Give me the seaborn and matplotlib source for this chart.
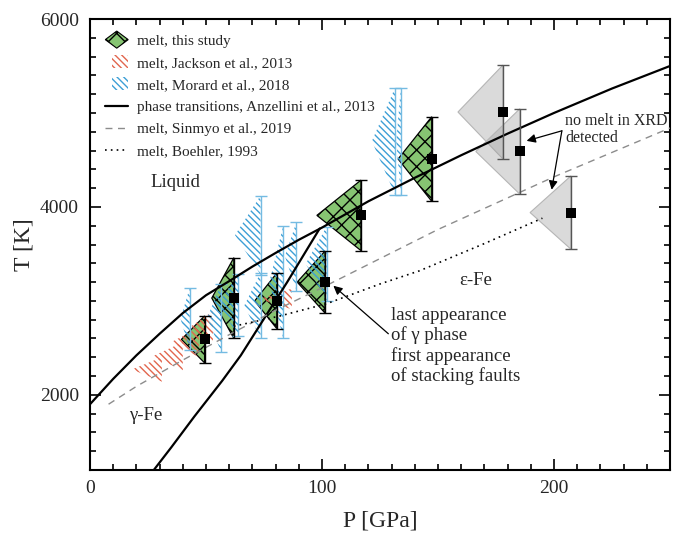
import numpy as np
import pandas as pd
import matplotlib
matplotlib.use("Agg")
import matplotlib.pyplot as plt
import seaborn as sns
from matplotlib.patches import Polygon, Patch
from matplotlib.lines import Line2D
from matplotlib.legend_handler import HandlerPatch
from matplotlib.ticker import MultipleLocator

# ---------------- data ----------------
# Anzellini et al. 2013 melting curve
P_melt = [0, 10, 20, 30, 40, 50, 60, 70, 80, 90, 100, 120, 140, 160, 180, 200, 225, 250]
T_melt = [1900, 2170, 2420, 2650, 2870, 3060, 3210, 3365, 3510, 3650, 3780, 4060, 4310, 4550, 4780, 5000, 5260, 5500]
# Anzellini et al. 2013 gamma-epsilon boundary
P_ge = [27.5, 35, 45, 57, 65, 75, 85, 99]
T_ge = [1200, 1440, 1770, 2150, 2420, 2810, 3200, 3770]
# Sinmyo et al. 2019 melting
P_sin = [8, 20, 40, 60, 80, 100, 125, 150, 175, 200, 225, 250]
T_sin = [1900, 2090, 2370, 2640, 2900, 3140, 3450, 3760, 4040, 4320, 4580, 4840]
# Boehler 1993 melting
P_boe = [62, 82, 102, 125, 142, 170, 195]
T_boe = [2730, 2840, 2970, 3180, 3320, 3610, 3880]

# melt, this study
P_this = [49.4, 62.0, 80.5, 101.3, 116.8, 147.3]
T_this = [2590, 3030, 3000, 3200, 3910, 4510]
dT_this = [250, 430, 295, 330, 375, 450]
dP_this = [10.0, 9.5, 9.5, 12.0, 19.0, 14.5]

# no melt in XRD detected
P_nomelt = [178.0, 185.3, 207.3]
T_nomelt = [5010, 4590, 3940]
dT_nomelt = [500, 455, 390]
dP_nomelt = [19.4, 19.0, 17.6]

# Jackson et al. 2013
P_jack = [31, 40, 47, 53, 87]
T_jack = [2270, 2410, 2560, 2720, 3020]
dT_jack = [130, 150, 160, 170, 110]
dP_jack = [13, 13, 12, 10, 14]

# Morard et al. 2018
P_mor = [43, 56.5, 64, 73.5, 73.5, 83.3, 89, 102, 131.5, 134]
T_mor = [2810, 2820, 2960, 3700, 2950, 3200, 3475, 3395, 4700, 4700]
dT_mor = [330, 360, 330, 420, 350, 600, 365, 395, 570, 570]
dP_mor = [4, 6, 9, 11, 7, 6, 5, 9, 10, 2]

legend_labels = ["melt, this study", "melt, Jackson et al., 2013", "melt, Morard et al., 2018",
                 "phase transitions, Anzellini et al., 2013", "melt, Sinmyo et al., 2019",
                 "melt, Boehler, 1993"]

# ---------------- style ----------------
sns.set_theme(style="ticks")
plt.rcParams["font.family"] = ["Liberation Serif", "DejaVu Serif"]
plt.rcParams["hatch.linewidth"] = 1.0

GREEN = "#86c472"
RED = "#e2664e"
BLUE = "#3d9fd6"
BLUE_BAR = "#74bbe2"

fig = plt.figure(figsize=(6.73, 5.33), dpi=100)
ax = fig.add_axes([90 / 673, 63 / 533, 580 / 673, 451 / 533])


def half_diamonds(P, T, dT, dP, **kw):
    for p, t, h, w in zip(P, T, dT, dP):
        ax.add_patch(Polygon([(p, t + h), (p, t - h), (p - w, t)], closed=True, **kw))


# no-melt grey triangles
half_diamonds(P_nomelt, T_nomelt, dT_nomelt, dP_nomelt,
              facecolor=(0.62, 0.62, 0.62, 0.38), edgecolor="#b5b5b5", lw=0.8, zorder=1.5)
# this study
half_diamonds(P_this, T_this, dT_this, dP_this,
              facecolor=GREEN, edgecolor="black", hatch="xx", lw=0.9, zorder=2)
# Jackson
half_diamonds(P_jack, T_jack, dT_jack, dP_jack,
              facecolor="none", edgecolor=RED, hatch="\\\\\\\\\\", lw=0, zorder=2.4)
# Morard
half_diamonds(P_mor, T_mor, dT_mor, dP_mor,
              facecolor="none", edgecolor=BLUE, hatch="\\\\\\\\\\", lw=0, zorder=2.5)

# error bars
ax.errorbar(P_mor, T_mor, yerr=dT_mor, fmt="none", ecolor=BLUE_BAR, elinewidth=1.0,
            capsize=4, capthick=1.0, zorder=2.6)
ax.errorbar(P_this, T_this, yerr=dT_this, fmt="none", ecolor="black", elinewidth=1.0,
            capsize=4, capthick=1.0, zorder=4)
ax.errorbar(P_nomelt, T_nomelt, yerr=dT_nomelt, fmt="none", ecolor="#555555", elinewidth=1.0,
            capsize=4, capthick=1.0, zorder=4)

# curves
sns.lineplot(x=P_melt, y=T_melt, ax=ax, color="black", lw=1.6, zorder=3)
sns.lineplot(x=P_ge, y=T_ge, ax=ax, color="black", lw=1.6, zorder=3)
sns.lineplot(x=P_sin, y=T_sin, ax=ax, color="#8c8c8c", lw=1.0, linestyle=(0, (5, 4)), zorder=3)
sns.lineplot(x=P_boe, y=T_boe, ax=ax, color="black", lw=1.2, linestyle=(0, (1, 2.5)), zorder=3)

# squares
sns.scatterplot(x=P_this + P_nomelt, y=T_this + T_nomelt, ax=ax, marker="s", s=55,
                color="black", edgecolor="black", linewidth=0, zorder=5)

# annotations
ax.text(36.6, 4258, "Liquid", fontsize=13.5, ha="center", va="center")
ax.text(24, 1785, "γ-Fe", fontsize=13.5, ha="center", va="center")
ax.text(166.4, 3215, "ε-Fe", fontsize=13.5, ha="center", va="center")
ax.text(129.7, 2940, "last appearance\nof γ phase\nfirst appearance\nof stacking faults",
        fontsize=13.5, ha="left", va="top", linespacing=1.2)
ax.text(204.7, 5000, "no melt in XRD\ndetected", fontsize=11.5, ha="left", va="top",
        linespacing=1.1)

arrow_kw = dict(arrowstyle="-|>", color="black", lw=0.9, mutation_scale=13,
                shrinkA=0, shrinkB=0)
ax.annotate("", xy=(104.9, 3161), xytext=(128.6, 2650), arrowprops=arrow_kw, zorder=6)
ax.annotate("", xy=(188.2, 4703), xytext=(203.4, 4810), arrowprops=arrow_kw, zorder=6)
ax.annotate("", xy=(199.0, 4183), xytext=(203.4, 4810), arrowprops=arrow_kw, zorder=6)

# axes
ax.set_xlim(0, 250)
ax.set_ylim(1200, 6000)
ax.set_xticks([0, 100, 200])
ax.set_yticks([2000, 4000, 6000])
ax.xaxis.set_minor_locator(MultipleLocator(10))
ax.yaxis.set_minor_locator(MultipleLocator(200))
ax.tick_params(which="both", direction="in", top=True, right=True, width=1.2, color="black")
ax.tick_params(which="major", length=8)
ax.tick_params(which="minor", length=4.5)
ax.tick_params(axis="x", which="major", labelsize=14, pad=7)
ax.tick_params(axis="y", which="major", labelsize=14, pad=8)
for sp in ax.spines.values():
    sp.set_color("black")
    sp.set_linewidth(1.5)
    sp.set_visible(True)
ax.set_xlabel("P [GPa]", fontsize=17, labelpad=10)
ax.set_ylabel("T [K]", fontsize=17, labelpad=4)


# legend
def diamond(legend, orig_handle, xdescent, ydescent, width, height, fontsize):
    cx = width / 2 - xdescent
    cy = height / 2 - ydescent
    hw = width / 2
    hh = height * 0.8
    return Polygon([(cx, cy + hh), (cx + hw, cy), (cx, cy - hh), (cx - hw, cy)], closed=True)


def para(legend, orig_handle, xdescent, ydescent, width, height, fontsize):
    x0 = -xdescent + width * 0.3
    x1 = -xdescent + width
    y0 = -ydescent - height * 0.1
    y1 = -ydescent + height * 1.1
    return Polygon([(x0, y1), (x1, y1), (x1, y0), (x0, y0)], closed=True)


h_this = Patch(facecolor=GREEN, edgecolor="black", hatch="xx", lw=0.8)
h_jack = Patch(facecolor="none", edgecolor=RED, hatch="\\\\\\\\\\", lw=0)
h_mor = Patch(facecolor="none", edgecolor=BLUE, hatch="\\\\\\\\\\", lw=0)
h_anz = Line2D([], [], color="black", lw=1.6)
h_sin = Line2D([], [], color="#8c8c8c", lw=1.0, linestyle=(0, (5, 4)))
h_boe = Line2D([], [], color="black", lw=1.2, linestyle=(0, (1, 2.5)))
ax.legend([h_this, h_jack, h_mor, h_anz, h_sin, h_boe], legend_labels,
          handler_map={h_this: HandlerPatch(patch_func=diamond),
                       h_jack: HandlerPatch(patch_func=para),
                       h_mor: HandlerPatch(patch_func=para)},
          loc="upper left", frameon=False, fontsize=11, handlelength=1.5,
          handletextpad=0.6, labelspacing=0.55, borderaxespad=0.6)

fig.savefig("out.png", dpi=100)
